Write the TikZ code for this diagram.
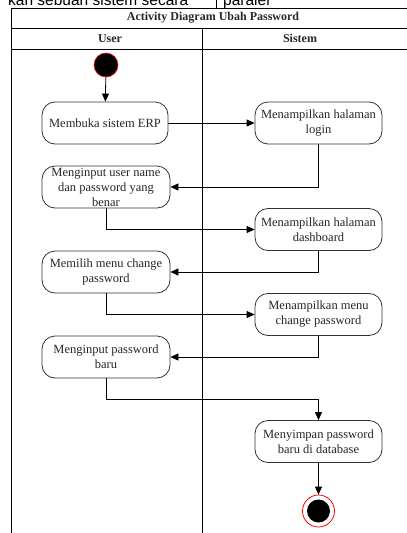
\documentclass[tikz,border=0pt]{standalone}
\usepackage{fontspec}
\setmainfont{Liberation Serif}
\newfontfamily\fragfont{Liberation Sans}
\usetikzlibrary{arrows.meta}
\begin{document}
\begin{tikzpicture}[x=1pt,y=-1pt,
  act/.style={draw=black!80, line width=0.8pt, rounded corners=13pt, minimum width=127pt, minimum height=42pt, inner sep=0pt},
  acttext/.style={align=center, font=\fontsize{12.5}{15}\selectfont, inner sep=0pt, text=black!85},
  flow/.style={draw=black, line width=0.8pt, -{Triangle[length=8pt,width=7pt]}},
  frame/.style={draw=black, line width=0.8pt},
  headtext/.style={font=\bfseries\fontsize{12}{14}\selectfont, text=black!85},
  fragtext/.style={anchor=base west, font=\fragfont\fontsize{15.5}{15.5}\selectfont, inner sep=0pt},
]
\useasboundingbox (0,0) rectangle (407,533);
\clip (0,0) rectangle (407,533);
% clipped text fragment from the page above
\node[fragtext] (frag1) at (8,5) {kan sebuah sistem secara};
\node[fragtext] (frag2) at (223,5) {paralel};
\draw[line width=0.8pt] (216,-2) -- (216,8);
% swimlane frame
\draw[frame] (11,545) -- (11,8) -- (425,8);
\draw[frame] (11,28) -- (425,28);
\draw[frame] (11,49) -- (425,49);
\draw[frame] (202,28) -- (202,545);
\node[headtext] (title) at (213,18) {Activity Diagram Ubah Password};
\node[headtext] (user) at (110,38.5) {User};
\node[headtext] (sistem) at (300,38.5) {Sistem};
% start
\node[circle, fill=black, draw=red, line width=0.6pt, minimum size=24pt, inner sep=0pt] (start) at (106,65) {};
% activities
\node[act, minimum width=126pt] (mb) at (105,123) {};
\node[acttext] at (mb) {Membuka sistem ERP};
\node[act] (login) at (318.5,123) {};
\node[acttext] at (login) {Menampilkan halaman\\login};
\node[act, minimum width=128pt] (mu) at (106,187) {};
\node[acttext] at (mu) {Menginput user name\\dan password yang\\benar};
\node[act] (dash) at (318.5,229.5) {};
\node[acttext] at (dash) {Menampilkan halaman\\dashboard};
\node[act, minimum width=128pt] (mm) at (106,272) {};
\node[acttext] at (mm) {Memilih menu change\\password};
\node[act] (menu) at (318.5,314.5) {};
\node[acttext] at (menu) {Menampilkan menu\\change password};
\node[act, minimum width=128pt] (mp) at (106,357) {};
\node[acttext] at (mp) {Menginput password\\baru};
\node[act] (simpan) at (318.5,441.5) {};
\node[acttext] at (simpan) {Menyimpan password\\baru di database};
% end
\node[circle, draw=red, line width=0.8pt, minimum size=32pt, inner sep=0pt] (end) at (318.5,511) {};
\node[circle, fill=black, minimum size=23pt, inner sep=0pt] (endin) at (end) {};
% flows
\draw[flow] (start) -- (mb);
\draw[flow] (mb) -- (login);
\draw[flow] (login.south) |- (mu.east);
\draw[flow] (mu.south) |- (dash.west);
\draw[flow] (dash.south) |- (mm.east);
\draw[flow] (mm.south) |- (menu.west);
\draw[flow] (menu.south) |- (mp.east);
\draw[flow] (mp.south) -- ++(0,21) -| (simpan.north);
\draw[flow] (simpan) -- (end);
\end{tikzpicture}
\end{document}
